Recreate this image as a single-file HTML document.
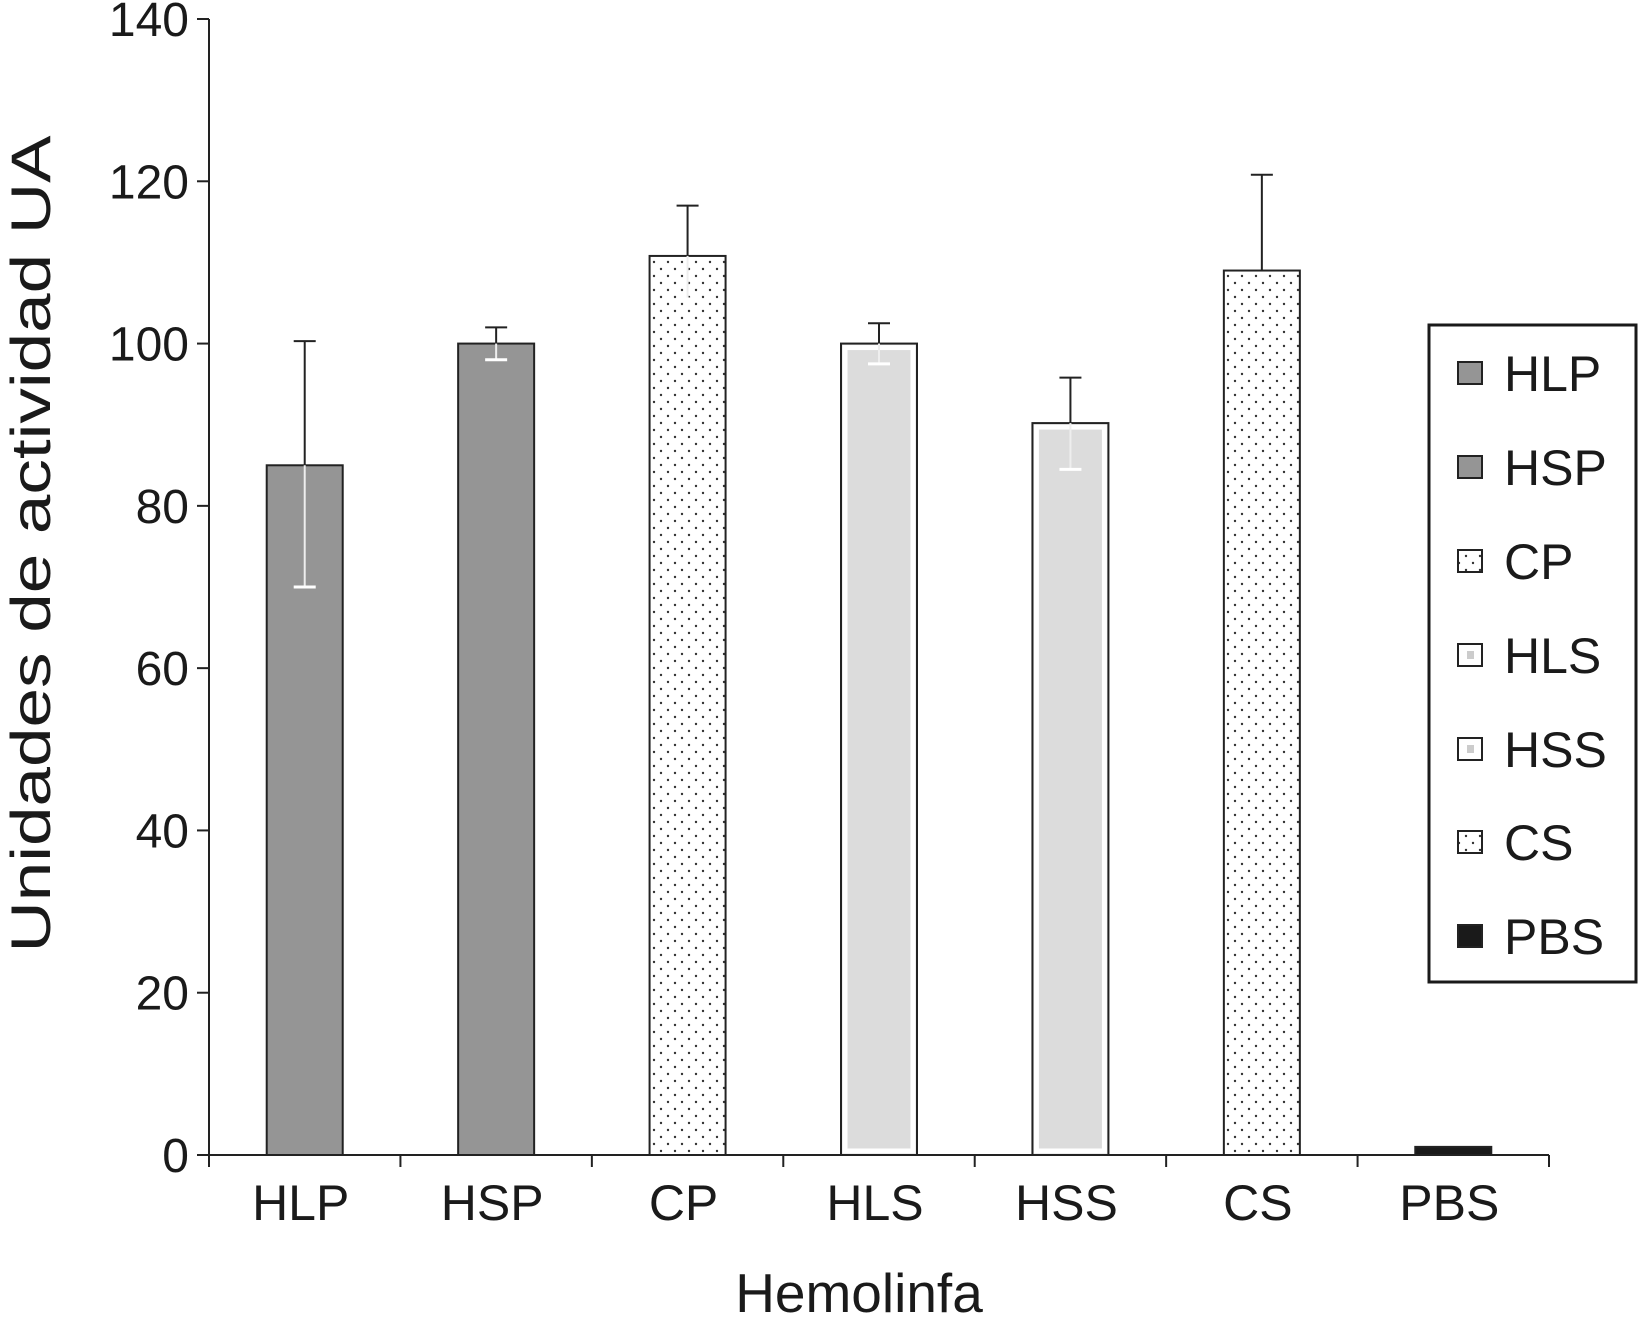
<!DOCTYPE html>
<html><head><meta charset="utf-8"><style>
body{margin:0;background:#fff}
svg text{font-family:"Liberation Sans",sans-serif;fill:#1a1a1a}
</style></head><body>
<svg id="chart" width="1638" height="1326" viewBox="0 0 1638 1326" xmlns="http://www.w3.org/2000/svg">
<defs>
<pattern id="dots" width="14" height="14" patternUnits="userSpaceOnUse">
<rect width="14" height="14" fill="#fff"/><circle cx="3" cy="3" r="1.2" fill="#333"/><circle cx="10" cy="10" r="1.2" fill="#333"/>
</pattern>
</defs>
<g id="plot"></g>
</svg>
<script>
const categories=["HLP","HSP","CP","HLS","HSS","CS","PBS"];
const values=[85,100,110.8,100,90.2,109,1];
const errUp=[15.3,2,6.2,2.5,5.6,11.8,0];
const errDown=[15,2,5.3,2.5,5.7,0,0];
const yTicks=[0,20,40,60,80,100,120,140];
const fills=["#959595","#959595","url(#dots)","#dcdcdc","#dcdcdc","url(#dots)","#1a1a1a"];
const legendLabels=["HLP","HSP","CP","HLS","HSS","CS","PBS"];

const NS="http://www.w3.org/2000/svg";
const g=document.getElementById('plot');
const X0=209,X1=1549,Y0=1155,Y1=19;
const cw=(X1-X0)/categories.length;
function y(v){return Y0-(v/140)*(Y0-Y1);}
function xc(i){return X0+cw*(i+0.5);}
function mk(t,a,p){const e=document.createElementNS(NS,t);for(const k in a)e.setAttribute(k,a[k]);(p||g).appendChild(e);return e;}

categories.forEach((c,i)=>{
  const bw=76,x=xc(i)-bw/2,top=y(values[i]);
  const r=mk('rect',{x:x,y:top,width:bw,height:Y0-top,fill:fills[i],stroke:"#222","stroke-width":2});
  
  
  if(i===3||i===4){
    const inner=mk('rect',{x:x+4,y:top+4,width:bw-8,height:Y0-top-8,fill:"#dcdcdc",stroke:"#fff","stroke-width":5});
    
    
  }
  if(errUp[i]>0){
    const hi=y(values[i]+errUp[i]);
    const up=mk('line',{x1:xc(i),x2:xc(i),y1:hi,y2:top,stroke:"#222","stroke-width":2});
    
    
    mk('line',{x1:xc(i)-11,x2:xc(i)+11,y1:hi,y2:hi,stroke:"#222","stroke-width":2});
  }
  if(errDown[i]>0){
    const lo=y(values[i]-errDown[i]);
    const dn=mk('line',{x1:xc(i),x2:xc(i),y1:top,y2:lo,stroke:"#eee","stroke-width":2});
    
    
    mk('line',{x1:xc(i)-11,x2:xc(i)+11,y1:lo,y2:lo,stroke:"#fff","stroke-width":3});
  }
  const t=mk('text',{x:xc(i)-4,y:1220,"font-size":50,"text-anchor":"middle"});
  t.textContent=c;
  
  
});

const ya=mk('line',{x1:X0,x2:X0,y1:Y1,y2:Y0,stroke:"#222","stroke-width":2});


const xa=mk('line',{x1:X0,x2:X1,y1:Y0,y2:Y0,stroke:"#222","stroke-width":2});


yTicks.forEach(v=>{
  mk('line',{x1:X0-12,x2:X0,y1:y(v),y2:y(v),stroke:"#222","stroke-width":2});
  const t=mk('text',{x:X0-20,y:y(v)+17,"font-size":48,"text-anchor":"end"});
  t.textContent=v;
  
  
});
for(let i=0;i<=categories.length;i++){
  mk('line',{x1:X0+cw*i,x2:X0+cw*i,y1:Y0,y2:Y0+12,stroke:"#222","stroke-width":2});
}
const yt=mk('text',{transform:"translate(50,544) rotate(-90)","font-size":56,"text-anchor":"middle",textLength:817,lengthAdjust:"spacingAndGlyphs"});
yt.textContent="Unidades de actividad UA";


const xt=mk('text',{x:859,y:1312,"font-size":55,"text-anchor":"middle"});
xt.textContent="Hemolinfa";



const lg=mk('g',{});


mk('rect',{x:1429,y:325,width:207,height:657,fill:"#fff",stroke:"#1a1a1a","stroke-width":3},lg);
const ly=[373,467,561,655,749,842,936];
legendLabels.forEach((l,i)=>{
  const e=mk('g',{},lg);
  
  
  const f=(i===3||i===4)?"#fff":fills[i];
  mk('rect',{x:1458,y:ly[i]-11,width:24,height:22,fill:f,stroke:"#222","stroke-width":2},e);
  if(i===3||i===4) mk('rect',{x:1467,y:ly[i]-4,width:7,height:8,fill:"#ccc"},e);
  const t=mk('text',{x:1504,y:ly[i]+18,"font-size":50},e);
  t.textContent=l;
});
</script>
</body></html>
